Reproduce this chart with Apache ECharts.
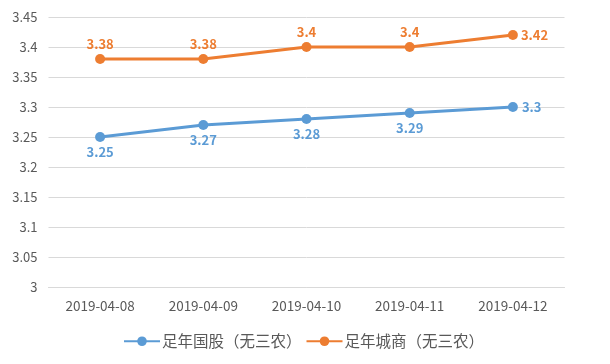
<!DOCTYPE html>
<html><head><meta charset="utf-8">
<script src="https://cdn.jsdelivr.net/npm/echarts@6/dist/echarts.min.js"></script>
<style>html,body{margin:0;padding:0;background:#fff}#c{width:610px;height:364px}</style>
</head><body><div id="c"></div>
<script>
const categories = ['2019-04-08','2019-04-09','2019-04-10','2019-04-11','2019-04-12'];
const seriesNames = ['足年国股（无三农）','足年城商（无三农）'];
const guoGu = [3.25, 3.27, 3.28, 3.29, 3.3];
const chengShang = [3.38, 3.38, 3.4, 3.4, 3.42];
const yTicks = {min: 3, max: 3.45, interval: 0.05};

const font = '"Noto Sans CJK SC", "Noto Sans", sans-serif';
function pts(vals, positions){
  return vals.map((v,i)=>({value:v, label:{position:positions[i]}}));
}
const chart = echarts.init(document.getElementById('c'));
chart.setOption({
  animation:false,
  textStyle:{fontFamily:font},
  grid:{left:48.5,right:45.5,top:17,bottom:77,containLabel:false},
  legend:{
    bottom:10, left:118,
    itemWidth:36, itemHeight:12, itemGap:4,
    textStyle:{color:'#595959',fontSize:15.5,fontFamily:font,padding:[0,0,0,-3]},
    data:seriesNames
  },
  xAxis:{
    type:'category', data:categories, boundaryGap:true,
    axisLine:{lineStyle:{color:'#d9d9d9'}},
    axisTick:{show:false},
    axisLabel:{color:'#595959',fontSize:13.5,margin:12,fontFamily:font}
  },
  yAxis:{
    type:'value', min:yTicks.min, max:yTicks.max, interval:yTicks.interval,
    axisLine:{show:false}, axisTick:{show:false},
    splitLine:{lineStyle:{color:'#d9d9d9'}},
    axisLabel:{color:'#595959',fontSize:13,margin:11,fontFamily:font,
      formatter:v=>String(Math.round(v*100)/100)}
  },
  series:[
    {name:seriesNames[0], type:'line', data:pts(guoGu,['bottom','bottom','bottom','bottom','right']),
     color:'#5B9BD5', symbol:'circle', symbolSize:10, lineStyle:{width:3},
     label:{show:true,color:'#5B9BD5',fontSize:13,fontWeight:'bold',distance:4,fontFamily:font}},
    {name:seriesNames[1], type:'line', data:pts(chengShang,['top','top','top','top','right']),
     color:'#ED7D31', symbol:'circle', symbolSize:10, lineStyle:{width:3},
     label:{show:true,color:'#ED7D31',fontSize:13,fontWeight:'bold',distance:3,fontFamily:font}}
  ]
});
</script></body></html>
